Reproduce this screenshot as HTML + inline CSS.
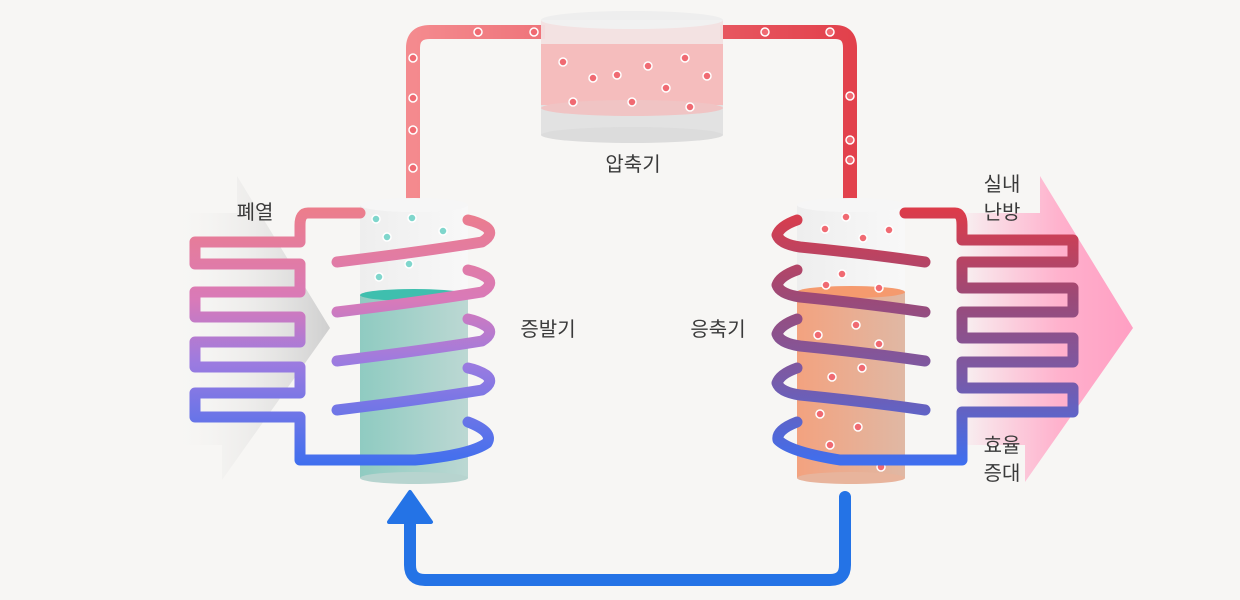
<!DOCTYPE html>
<html><head><meta charset="utf-8"><style>
html,body{margin:0;padding:0;background:#f7f6f4;}
svg{display:block;}
text{font-family:"Liberation Sans","Noto Sans CJK KR","NanumGothic",sans-serif;fill:#3a3a3a;font-size:20px;}
</style></head><body>
<svg width="1240" height="600" viewBox="0 0 1240 600">
<defs>
<linearGradient id="garr" x1="0" x2="1" y1="0" y2="0"><stop offset="0" stop-color="#f7f6f4" stop-opacity="0"/><stop offset="1" stop-color="#cfcfcf"/></linearGradient>
<linearGradient id="parr" x1="0" x2="1" y1="0" y2="0"><stop offset="0" stop-color="#ffa8c8" stop-opacity="0"/><stop offset="0.6" stop-color="#ffb0cc"/><stop offset="1" stop-color="#ff9fc3"/></linearGradient>
<linearGradient id="lcoil" gradientUnits="userSpaceOnUse" x1="0" y1="210" x2="0" y2="465"><stop offset="0" stop-color="#ec7d8c"/><stop offset="0.35" stop-color="#d97ab8"/><stop offset="0.6" stop-color="#9c7be0"/><stop offset="1" stop-color="#3f6fee"/></linearGradient>
<linearGradient id="rcoil" gradientUnits="userSpaceOnUse" x1="0" y1="210" x2="0" y2="465"><stop offset="0" stop-color="#dc3c4a"/><stop offset="0.35" stop-color="#9b4a78"/><stop offset="0.65" stop-color="#7a5aa6"/><stop offset="1" stop-color="#3e6ff0"/></linearGradient>
<linearGradient id="pipe" x1="0" x2="1"><stop offset="0" stop-color="#f48a8e"/><stop offset="1" stop-color="#e2414c"/></linearGradient>
<linearGradient id="teal" x1="0" x2="1"><stop offset="0" stop-color="#8fcbc1"/><stop offset="1" stop-color="#bcd8d3"/></linearGradient>
<linearGradient id="orange" x1="0" x2="1"><stop offset="0" stop-color="#f3a27f"/><stop offset="1" stop-color="#e0b8a4"/></linearGradient>
<linearGradient id="white" x1="0" x2="1"><stop offset="0" stop-color="#eeeeee"/><stop offset="1" stop-color="#f8f8f8"/></linearGradient>
</defs>

<!-- arrows -->
<path d="M170,213 L237,213 L237,176 L330,328 L222,480 L222,445 L170,445 Z" fill="url(#garr)"/>
<path d="M955,213 L1040,213 L1040,176 L1133,328 L1025,482 L1025,445 L955,445 Z" fill="url(#parr)"/>

<!-- top pipe -->
<path d="M413,205 L413,48 Q413,32 430,32 L545,32 M720,32 L835,32 Q850,32 850,48 L850,205" fill="none" stroke="url(#pipe)" stroke-width="14"/>

<!-- compressor -->
<g>
<rect x="541" y="20" width="182" height="110" fill="#f5b3b3" opacity="0.85"/>
<rect x="541" y="105" width="182" height="30" fill="#e2e2e2"/>
<ellipse cx="632" cy="135" rx="91" ry="8" fill="#dcdcdc"/>
<ellipse cx="632" cy="108" rx="91" ry="8" fill="#f0c4c4"/>
<ellipse cx="632" cy="20" rx="91" ry="9" fill="#eeeeee"/>
<rect x="541" y="20" width="182" height="24" fill="#f2f2f2" opacity="0.7"/>
</g>
<text x="633" y="171" text-anchor="middle">압축기</text>

<!-- left cylinder -->
<g>
<rect x="360" y="205" width="108" height="273" fill="url(#white)"/>
<rect x="360" y="295" width="108" height="183" fill="url(#teal)"/>
<ellipse cx="414" cy="478" rx="54" ry="6" fill="#b7d4cf"/>
<ellipse cx="414" cy="295" rx="54" ry="6" fill="#3fbfae"/>
<ellipse cx="414" cy="205" rx="54" ry="7" fill="#f6f6f6"/>
</g>
<!-- right cylinder -->
<g>
<rect x="797" y="205" width="108" height="273" fill="url(#white)"/>
<rect x="797" y="292" width="108" height="186" fill="url(#orange)"/>
<ellipse cx="851" cy="478" rx="54" ry="6" fill="#e8b49c"/>
<ellipse cx="851" cy="292" rx="54" ry="6" fill="#f59a6e"/>
<ellipse cx="851" cy="205" rx="54" ry="7" fill="#f6f6f6"/>
</g>

<!-- particles -->
<g fill="#7fd6cc" stroke="#fff" stroke-width="1.5">
<circle cx="376" cy="219" r="4"/><circle cx="412" cy="218" r="4"/><circle cx="443" cy="231" r="4"/><circle cx="387" cy="237" r="4"/><circle cx="409" cy="264" r="4"/><circle cx="379" cy="277" r="4"/>
</g>
<g fill="#f06a72" stroke="#fff" stroke-width="1.5">
<circle cx="478" cy="32" r="4"/><circle cx="534" cy="32" r="4"/><circle cx="413" cy="58" r="4"/><circle cx="413" cy="98" r="4"/><circle cx="413" cy="130" r="4"/><circle cx="413" cy="168" r="4"/>
<circle cx="765" cy="32" r="4"/><circle cx="830" cy="32" r="4"/><circle cx="850" cy="96" r="4"/><circle cx="850" cy="140" r="4"/><circle cx="850" cy="160" r="4"/>
<circle cx="563" cy="62" r="4"/><circle cx="593" cy="78" r="4"/><circle cx="617" cy="75" r="4"/><circle cx="648" cy="66" r="4"/><circle cx="685" cy="58" r="4"/><circle cx="707" cy="76" r="4"/><circle cx="573" cy="102" r="4"/><circle cx="632" cy="102" r="4"/><circle cx="690" cy="107" r="4"/><circle cx="666" cy="88" r="4"/>
<circle cx="846" cy="217" r="4"/><circle cx="825" cy="229" r="4"/><circle cx="863" cy="238" r="4"/><circle cx="889" cy="230" r="4"/><circle cx="842" cy="274" r="4"/><circle cx="826" cy="285" r="4"/><circle cx="879" cy="288" r="4"/><circle cx="856" cy="325" r="4"/><circle cx="818" cy="335" r="4"/><circle cx="879" cy="344" r="4"/><circle cx="862" cy="368" r="4"/><circle cx="832" cy="377" r="4"/><circle cx="889" cy="404" r="4"/><circle cx="820" cy="414" r="4"/><circle cx="858" cy="427" r="4"/><circle cx="830" cy="445" r="4"/><circle cx="881" cy="467" r="4"/>
</g>

<!-- left coil + serpentine -->
<g fill="none" stroke="url(#lcoil)" stroke-width="11" stroke-linecap="round" stroke-linejoin="round">
<path d="M360,213 L308,213 Q300,213 300,225 L300,242 L195,242 L195,264 L300,264 L300,292 L195,292 L195,317 L300,317 L300,342 L195,342 L195,367 L300,367 L300,393 L195,393 L195,417 L300,417 L300,460 L415,460 Q470,455 487,443 Q494,432 468,422"/>
<path d="M337,262 Q420,252 482,242 Q495,234 486,227 Q478,222 468,220"/>
<path d="M337,312 Q420,302 482,292 Q495,284 486,277 Q478,272 468,270"/>
<path d="M337,361 Q420,351 482,341 Q495,333 486,326 Q478,321 468,319"/>
<path d="M337,410 Q420,400 482,390 Q495,382 486,375 Q478,370 468,368"/>
</g>

<!-- right coil + serpentine -->
<g fill="none" stroke="url(#rcoil)" stroke-width="11" stroke-linecap="round" stroke-linejoin="round">
<path d="M905,213 L955,213 Q962,213 962,225 L962,240 L1073,240 L1073,262 L962,262 L962,288 L1073,288 L1073,312 L962,312 L962,338 L1073,338 L1073,362 L962,362 L962,388 L1073,388 L1073,412 L962,412 L962,460 L840,460 Q790,452 778,440 Q776,430 797,422"/>
<path d="M797,220 Q780,226 777,235 Q780,244 800,247 Q870,254 925,262"/>
<path d="M797,270 Q780,276 777,285 Q780,294 800,297 Q870,304 925,312"/>
<path d="M797,319 Q780,325 777,334 Q780,343 800,346 Q870,353 925,361"/>
<path d="M797,368 Q780,374 777,383 Q780,392 800,395 Q870,402 925,410"/>
</g>

<!-- return arrow -->
<path d="M845,497 L845,565 Q845,580 830,580 L425,580 Q410,580 410,565 L410,515" fill="none" stroke="#2473e6" stroke-width="12" stroke-linecap="round"/>
<path d="M410,492 L431,522 L389,522 Z" fill="#2473e6" stroke="#2473e6" stroke-width="4" stroke-linejoin="round"/>

<!-- labels -->
<text x="255" y="219" text-anchor="middle">폐열</text>
<text x="548" y="336" text-anchor="middle">증발기</text>
<text x="718" y="336" text-anchor="middle">응축기</text>
<text x="1002" y="191" text-anchor="middle">실내</text>
<text x="1002" y="219" text-anchor="middle">난방</text>
<text x="1002" y="452" text-anchor="middle">효율</text>
<text x="1002" y="480" text-anchor="middle">증대</text>
</svg>
</body></html>
